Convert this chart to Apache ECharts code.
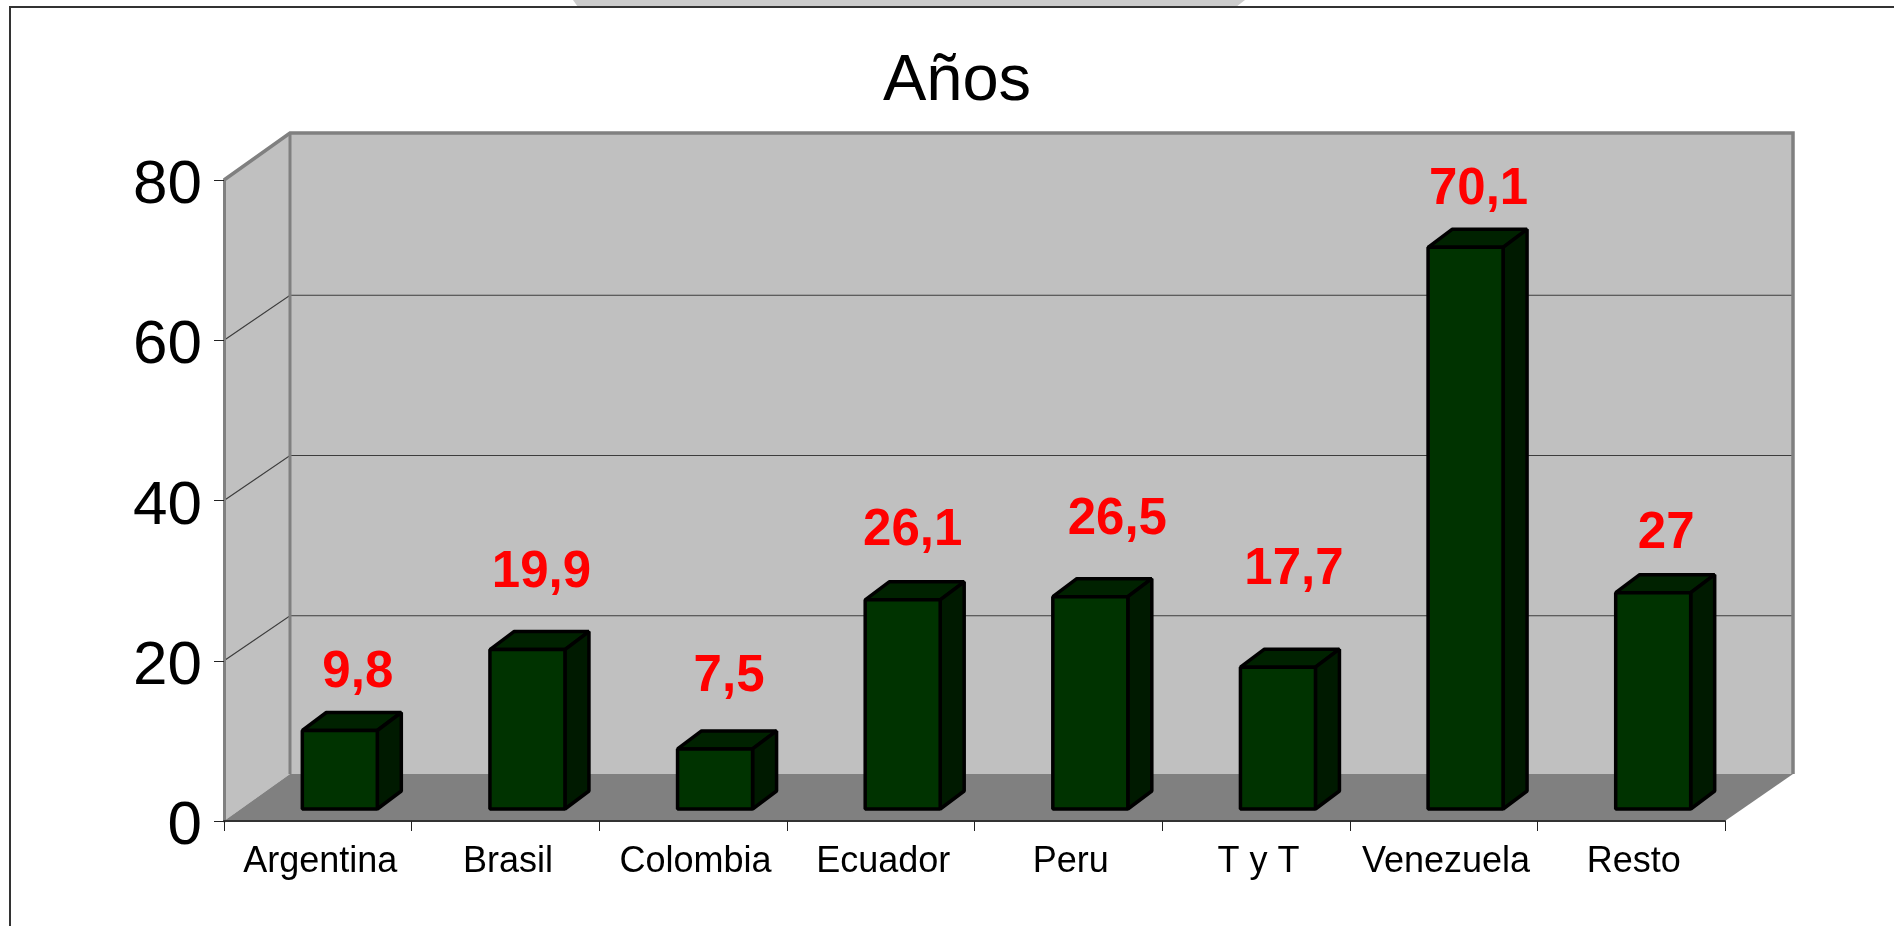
<!DOCTYPE html>
<html>
<head>
<meta charset="utf-8">
<title>Años</title>
<style>
  html, body { margin: 0; padding: 0; background: #fff; }
  #chart { width: 1894px; height: 926px; }
</style>
<script src="https://cdn.jsdelivr.net/npm/echarts@6/dist/echarts.min.js"></script>
</head>
<body>
<div id="chart"></div>
<script>
var categories = ['Argentina', 'Brasil', 'Colombia', 'Ecuador', 'Peru', 'T y T', 'Venezuela', 'Resto']
var values = [9.8, 19.9, 7.5, 26.1, 26.5, 17.7, 70.1, 27]
var yTicks = [0, 20, 40, 60, 80]

// the labels were placed by hand in the original, so each has its own nudge [x, y]
var labelNudge = [[18, -58], [14, -77], [14, -72], [10, -69], [27, -77], [16, -97], [13, -57], [13, -59]]

var FONT = '"Liberation Sans", Arial, sans-serif'
// depth of the 3D box
var WALL_DX = 66
var WALL_DY = 47
var WALL_EXTRA = 2
var GRID_SHIFT = 2
var BAR_W = 75
var BAR_SHIFT_X = 22
var BAR_SHIFT_Y = 12
var BAR_DX = 24
var BAR_DY = 18

function renderWalls (params, api) {
  var c = params.coordSys
  var left = c.x
  var right = c.x + c.width
  var top = c.y
  var bottom = c.y + c.height
  var backRight = right + WALL_DX + WALL_EXTRA
  var children = [
    {
      type: 'polygon',
      shape: { points: [[left, top], [left + WALL_DX, top - WALL_DY], [left + WALL_DX, bottom - WALL_DY], [left, bottom]] },
      style: { fill: '#c0c0c0' }
    },
    {
      type: 'rect',
      shape: { x: left + WALL_DX, y: top - WALL_DY, width: backRight - left - WALL_DX, height: c.height },
      style: { fill: '#c0c0c0' }
    },
    {
      type: 'polygon',
      shape: { points: [[left, bottom], [right, bottom], [backRight, bottom - WALL_DY], [left + WALL_DX, bottom - WALL_DY]] },
      style: { fill: '#808080' }
    }
  ]
  yTicks.forEach(function (t) {
    if (t === 0 || t === 80) return
    var y = api.coord([0, t])[1]
    var yBack = y - WALL_DY + GRID_SHIFT
    children.push({
      type: 'polyline',
      shape: { points: [[left, y], [left + WALL_DX, yBack], [backRight, yBack]] },
      style: { fill: 'none', stroke: '#3c3c3c', lineWidth: 1.2 }
    })
  })
  // grey edges of the walls
  children.push({
    type: 'polyline',
    shape: { points: [[left, top], [left + WALL_DX, top - WALL_DY], [backRight, top - WALL_DY], [backRight, bottom - WALL_DY]] },
    style: { fill: 'none', stroke: '#808080', lineWidth: 3.5 }
  })
  children.push({
    type: 'line',
    shape: { x1: left + WALL_DX, y1: top - WALL_DY, x2: left + WALL_DX, y2: bottom - WALL_DY },
    style: { stroke: '#808080', lineWidth: 3 }
  })
  return { type: 'group', children: children }
}

function renderBar (params, api) {
  var idx = api.value(0)
  var val = api.value(1)
  var p0 = api.coord([idx, 0])
  var p1 = api.coord([idx, val])
  var x = p0[0] + BAR_SHIFT_X - BAR_W / 2
  var yBase = p0[1] - BAR_SHIFT_Y
  var yTop = p1[1] - BAR_SHIFT_Y
  var x2 = x + BAR_W
  var nudge = labelNudge[idx]
  var edge = { stroke: '#000', lineWidth: 3.5, lineJoin: 'bevel' }
  return {
    type: 'group',
    children: [
      {
        type: 'polygon',
        shape: { points: [[x, yTop], [x + BAR_DX, yTop - BAR_DY], [x2 + BAR_DX, yTop - BAR_DY], [x2, yTop]] },
        style: Object.assign({ fill: '#002200' }, edge)
      },
      {
        type: 'polygon',
        shape: { points: [[x2, yTop], [x2 + BAR_DX, yTop - BAR_DY], [x2 + BAR_DX, yBase - BAR_DY], [x2, yBase]] },
        style: Object.assign({ fill: '#001a00' }, edge)
      },
      {
        type: 'rect',
        shape: { x: x, y: yTop, width: BAR_W, height: yBase - yTop },
        style: Object.assign({ fill: '#003300' }, edge)
      },
      {
        type: 'text',
        style: {
          x: x + BAR_W / 2 + nudge[0],
          y: yTop + nudge[1],
          text: String(val).replace('.', ','),
          fill: '#ff0000',
          fontFamily: FONT,
          fontWeight: 'bold',
          fontSize: 51,
          align: 'center',
          verticalAlign: 'middle'
        }
      }
    ]
  }
}

var chart = echarts.init(document.getElementById('chart'))
chart.setOption({
  backgroundColor: '#fff',
  animation: false,
  title: {
    text: 'Años',
    left: 952,
    top: 45,
    textAlign: 'center',
    textStyle: { fontFamily: FONT, fontSize: 65, fontWeight: 'normal', color: '#000' }
  },
  grid: { left: 224, right: 169, top: 180, bottom: 105, containLabel: false },
  xAxis: {
    type: 'category',
    data: categories,
    axisLine: { show: true, onZero: false, lineStyle: { color: '#333', width: 2 } },
    axisTick: { show: true, alignWithLabel: false, length: 10, lineStyle: { color: '#222', width: 1 } },
    axisLabel: { color: '#000', fontFamily: FONT, fontSize: 36, margin: 23, interval: 0, padding: [0, 0, 0, 5] },
    z: 3
  },
  yAxis: {
    type: 'value',
    min: 0,
    max: 80,
    interval: 20,
    splitLine: { show: false },
    axisLine: { show: true, lineStyle: { color: '#808080', width: 3 } },
    axisTick: { show: true, length: 10, lineStyle: { color: '#222', width: 1 } },
    // top aligned with a short line height drops the digits a little below the tick
    axisLabel: { color: '#000', fontFamily: FONT, fontSize: 62, margin: 22, verticalAlign: 'top', lineHeight: 12 },
    z: 3
  },
  graphic: [
    {
      type: 'polygon',
      silent: true,
      shape: { points: [[573, 0], [1245, 0], [1236, 7], [578, 7]] },
      style: { fill: '#cccccc' }
    },
    {
      type: 'polyline',
      silent: true,
      shape: { points: [[10, 926], [10, 7], [1894, 7]] },
      style: { fill: 'none', stroke: '#333', lineWidth: 2 }
    }
  ],
  series: [
    {
      type: 'custom',
      renderItem: renderWalls,
      data: [[0, 0]],
      clip: false,
      silent: true,
      z: 1
    },
    {
      type: 'custom',
      renderItem: renderBar,
      data: values.map(function (v, i) { return [i, v] }),
      encode: { x: 0, y: 1 },
      clip: false,
      z: 2
    }
  ]
})
</script>
</body>
</html>
